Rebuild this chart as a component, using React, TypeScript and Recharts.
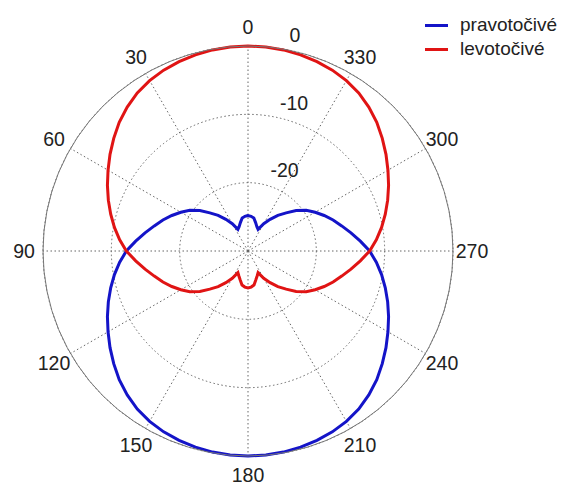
import React from "react";
import { Legend, PolarAngleAxis, PolarGrid, PolarRadiusAxis, Radar, RadarChart } from "recharts";

// measuring angles in degrees, 0 at the top, counter-clockwise
const angles = [
  0, 5, 10, 15, 20, 25, 30, 35, 40, 45, 50, 55, 60, 65, 70, 75, 80, 85,
  90, 95, 100, 105, 110, 115, 120, 125, 130, 135, 140, 145, 150, 155, 160, 165, 170, 175,
  180, 185, 190, 195, 200, 205, 210, 215, 220, 225, 230, 235, 240, 245, 250, 255, 260, 265,
  270, 275, 280, 285, 290, 295, 300, 305, 310, 315, 320, 325, 330, 335, 340, 345, 350, 355
];

// right-hand circular polarisation, dB
const pravotocive = [
  -24.8, -24.9, -25.1, -25.7, -26.2, -26.5, -25.4, -24.35, -23.2, -22.1, -20.8, -19.6, -18.65, -17.7, -16.75, -15.8, -14.7, -13.5,
  -12.2, -11.15, -10.15, -9.2, -8.25, -7.3, -6.35, -5.35, -4.35, -3.35, -2.5, -1.75, -1.2, -0.8, -0.5, -0.28, -0.12, -0.03,
  0, -0.03, -0.12, -0.28, -0.5, -0.8, -1.2, -1.75, -2.5, -3.35, -4.35, -5.35, -6.35, -7.3, -8.25, -9.2, -10.15, -11.15,
  -12.2, -13.5, -14.7, -15.8, -16.75, -17.7, -18.65, -19.6, -20.8, -22.1, -23.2, -24.35, -25.4, -26.5, -26.2, -25.7, -25.1, -24.9
];

// left-hand circular polarisation, dB
const levotocive = [
  0, -0.03, -0.12, -0.28, -0.5, -0.8, -1.2, -1.75, -2.5, -3.35, -4.35, -5.35, -6.35, -7.3, -8.25, -9.2, -10.15, -11.15,
  -12.2, -13.5, -14.7, -15.8, -16.75, -17.7, -18.65, -19.6, -20.8, -22.1, -23.2, -24.35, -25.4, -26.5, -26.1, -25.6, -24.95, -24.7,
  -24.6, -24.7, -24.95, -25.6, -26.1, -26.5, -25.4, -24.35, -23.2, -22.1, -20.8, -19.6, -18.65, -17.7, -16.75, -15.8, -14.7, -13.5,
  -12.2, -11.15, -10.15, -9.2, -8.25, -7.3, -6.35, -5.35, -4.35, -3.35, -2.5, -1.75, -1.2, -0.8, -0.5, -0.28, -0.12, -0.03
];

const seriesNames = ["pravotočivé", "levotočivé"];
const angleTicks = [0, 30, 60, 90, 120, 150, 180, 210, 240, 270, 300, 330];
const radiusTicks = [-20, -10, 0];

const rows = angles.map((angle, i) => ({ angle, prav: pravotocive[i], levo: levotocive[i] }));

const CX = 248;
const CY = 251;
const R = 205;
const FONT = "'Liberation Sans', Arial, sans-serif";

// angle labels sit on a ring just outside the plot circle
function AngleTick(props: any) {
  const { x, y, payload } = props;
  const dx = x - CX;
  const dy = y - CY;
  const len = Math.sqrt(dx * dx + dy * dy) || 1;
  const tx = CX + (dx / len) * 224;
  const ty = CY + (dy / len) * 224;
  return (
    <text x={tx} y={ty} textAnchor="middle" dominantBaseline="central" fontSize={19.5} fill="#222" fontFamily={FONT}>
      {payload.value}
    </text>
  );
}

function RadiusTick(props: any) {
  const { x, y, payload } = props;
  return (
    <text x={x + 13} y={y - 6} textAnchor="start" fontSize={19.5} fill="#222" fontFamily={FONT}>
      {payload.value}
    </text>
  );
}

function LegendBox({ payload }: any) {
  const items = [...(payload || [])].sort((a: any, b: any) => seriesNames.indexOf(a.value) - seriesNames.indexOf(b.value));
  return (
    <div style={{ fontFamily: FONT, fontSize: 19, color: "#222", lineHeight: "24px" }}>
      {items.map((item: any) => (
        <div key={item.value} style={{ display: "flex", alignItems: "center" }}>
          <span style={{ display: "inline-block", width: 23, height: 3, background: item.color, marginRight: 12 }} />
          <span>{item.value}</span>
        </div>
      ))}
    </div>
  );
}

export default function App() {
  return (
    <div style={{ position: "absolute", left: 0, top: 0, width: 570, height: 485, background: "#fff" }}>
      <RadarChart
        width={570}
        height={485}
        data={rows}
        cx={CX}
        cy={CY}
        outerRadius={R}
        startAngle={90}
        endAngle={450}
        margin={{ top: 0, right: 0, bottom: 0, left: 0 }}
      >
        <PolarGrid gridType="circle" stroke="#666" strokeDasharray="1.5 2.5" strokeWidth={1} />
        <PolarAngleAxis
          dataKey="angle"
          type="number"
          domain={[0, 360]}
          ticks={angleTicks}
          axisLineType="circle"
          axisLine={{ stroke: "#777", strokeWidth: 1 }}
          tickLine={false}
          tick={AngleTick}
        />
        <PolarRadiusAxis
          type="number"
          domain={[-30, 0]}
          ticks={radiusTicks}
          angle={82}
          axisLine={false}
          tickLine={false}
          tick={RadiusTick}
        />
        <Radar name={seriesNames[0]} dataKey="prav" stroke="#1414c8" strokeWidth={3} fill="none" fillOpacity={0} dot={false} isAnimationActive={false} />
        <Radar name={seriesNames[1]} dataKey="levo" stroke="#e01414" strokeWidth={3} fill="none" fillOpacity={0} dot={false} isAnimationActive={false} />
        <Legend content={LegendBox} wrapperStyle={{ position: "absolute", left: 425, top: 13, width: 145 }} />
      </RadarChart>
    </div>
  );
}
